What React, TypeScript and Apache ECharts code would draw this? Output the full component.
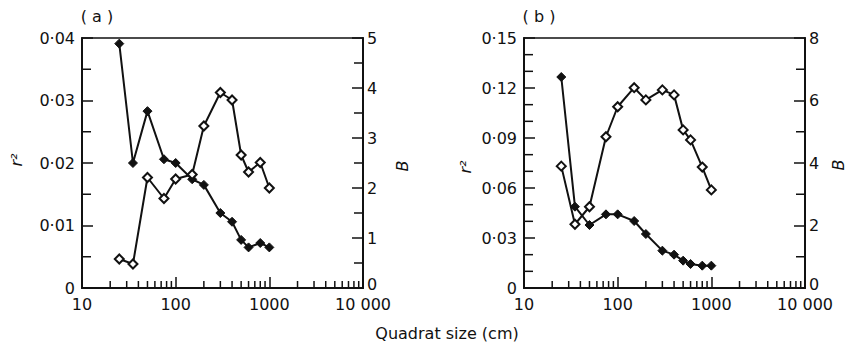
import React, { useEffect, useRef } from "react";
import * as echarts from "echarts";

const quadratSizes = [25, 35, 50, 75, 100, 150, 200, 300, 400, 500, 600, 800, 1000];
const aR2 = [0.0391, 0.02, 0.0283, 0.0206, 0.02, 0.0174, 0.0165, 0.012, 0.0106, 0.0077, 0.0065, 0.0072, 0.0065];
const aB = [0.58, 0.48, 2.21, 1.79, 2.18, 2.27, 3.24, 3.91, 3.76, 2.66, 2.32, 2.51, 2.0];
const bR2 = [0.1266, 0.0488, 0.0378, 0.0442, 0.0442, 0.0402, 0.0324, 0.0224, 0.02, 0.0164, 0.0144, 0.0134, 0.0134];
const bB = [3.9, 2.04, 2.6, 4.84, 5.8, 6.41, 6.02, 6.34, 6.18, 5.06, 4.74, 3.87, 3.14];
const minorXTicks = [20, 30, 40, 50, 60, 70, 80, 90, 200, 300, 400, 500, 600, 700, 800, 900, 2000, 3000, 4000, 5000, 6000, 7000, 8000, 9000];
const panelLabels = ["( a )", "( b )"];
const xTitle = "Quadrat size (cm)";
const leftTitle = "r\u00b2";
const rightTitle = "B";

const FONT = "DejaVu Sans";
const BLACK = "#111";
const FS = 16;

const fmtR2 = (v: number) => (v === 0 ? "0" : v.toFixed(2).replace(".", "\u00b7"));
const fmtX = (v: number) => (v === 10000 ? "10 000" : String(v));
const fmtB = (v: number) => (v === 0 ? "{z|0}" : String(v));

export default function App() {
  const ref = useRef<HTMLDivElement>(null);
  useEffect(() => {
    if (!ref.current) return;
    const chart = echarts.init(ref.current, null, { renderer: "svg" });
    const grids = [
      { left: 82, top: 38, width: 281, height: 250 },
      { left: 524, top: 38, width: 281, height: 250 },
    ];
    const xAxis = grids.map((_, i) => ({
      type: "log",
      gridIndex: i,
      logBase: 10,
      min: 10,
      max: 10000,
      axisLine: { show: true, lineStyle: { color: BLACK, width: 2 } },
      axisTick: { show: true, inside: true, length: 11, lineStyle: { color: BLACK, width: 1.5 } },
      axisLabel: { formatter: fmtX, color: BLACK, fontFamily: FONT, fontSize: FS, lineHeight: 14, margin: 9 },
      splitLine: { show: false },
    }));
    const yCommon = (gridIndex: number, position: string, min: number, max: number, interval: number, formatter: any) => ({
      type: "value",
      gridIndex,
      position,
      min,
      max,
      interval,
      axisLine: { show: true, onZero: false, lineStyle: { color: BLACK, width: 2 } },
      axisTick: { show: true, inside: true, length: 11, lineStyle: { color: BLACK, width: 1.5 } },
      axisLabel: {
        formatter,
        color: BLACK,
        fontFamily: FONT,
        fontSize: FS,
        lineHeight: 14,
        margin: position === "left" ? 7 : 4,
        rich: { z: { fontFamily: FONT, fontSize: FS, color: BLACK, lineHeight: 14, padding: [0, 0, 8, 0] } },
      },
      splitLine: { show: false },
    });
    const yAxis = [
      yCommon(0, "left", 0, 0.04, 0.01, fmtR2),
      yCommon(0, "right", 0, 5, 1, fmtB),
      yCommon(1, "left", 0, 0.15, 0.03, fmtR2),
      yCommon(1, "right", 0, 8, 2, fmtB),
    ];
    const zip = (ys: number[]) => quadratSizes.map((x, i) => [x, ys[i]]);
    const lineSeries = (data: number[], xi: number, yi: number, filled: boolean) => ({
      type: "line",
      xAxisIndex: xi,
      yAxisIndex: yi,
      data: zip(data),
      symbol: "diamond",
      symbolSize: 9,
      showSymbol: true,
      lineStyle: { color: BLACK, width: 2 },
      itemStyle: filled
        ? { color: BLACK, borderColor: BLACK, borderWidth: 1 }
        : { color: "#fff", borderColor: BLACK, borderWidth: 2 },
      z: filled ? 3 : 4,
    });
    const xMinor = (xi: number, yi: number) => ({
      type: "custom",
      xAxisIndex: xi,
      yAxisIndex: yi,
      silent: true,
      data: minorXTicks.map((v) => [v, 0]),
      renderItem: (params: any, api: any) => {
        const p = api.coord([api.value(0), 0]);
        return {
          type: "line",
          shape: { x1: p[0], y1: p[1], x2: p[0], y2: p[1] - 7 },
          style: { stroke: BLACK, lineWidth: 1.5 },
        };
      },
    });
    const yMinorVals = (min: number, max: number, step: number, majorStep: number) => {
      const out: number[] = [];
      const n = Math.round((max - min) / step);
      for (let i = 1; i < n; i++) {
        const v = min + i * step;
        const r = v / majorStep;
        if (Math.abs(r - Math.round(r)) > 1e-6) out.push(v);
      }
      return out;
    };
    const yMinor = (xi: number, yi: number, vals: number[], side: "left" | "right") => ({
      type: "custom",
      xAxisIndex: xi,
      yAxisIndex: yi,
      silent: true,
      data: vals.map((v) => [side === "left" ? 10 : 10000, v]),
      renderItem: (params: any, api: any) => {
        const p = api.coord([api.value(0), api.value(1)]);
        const d = side === "left" ? 9 : -9;
        return {
          type: "line",
          shape: { x1: p[0], y1: p[1], x2: p[0] + d, y2: p[1] },
          style: { stroke: BLACK, lineWidth: 1.5 },
        };
      },
    });
    const txt = (text: string, x: number, y: number, rot: number, italic = false) => ({
      type: "text",
      x,
      y,
      rotation: rot,
      style: {
        text,
        fontFamily: FONT,
        fontStyle: italic ? "italic" : "normal",
        fontSize: FS,
        fill: BLACK,
        textAlign: "center",
        textVerticalAlign: "middle",
      },
    });
    const option: any = {
      animation: false,
      backgroundColor: "#fff",
      textStyle: { fontFamily: FONT },
      grid: grids.map((g) => ({ ...g, show: true, borderColor: BLACK, borderWidth: 1.5, backgroundColor: "transparent" })),
      xAxis,
      yAxis,
      series: [
        xMinor(0, 0),
        xMinor(1, 2),
        yMinor(0, 0, yMinorVals(0, 0.04, 0.005, 0.01), "left"),
        yMinor(0, 1, yMinorVals(0, 5, 0.5, 1), "right"),
        yMinor(1, 2, yMinorVals(0, 0.15, 0.01, 0.03), "left"),
        yMinor(1, 3, yMinorVals(0, 8, 1, 2), "right"),
        lineSeries(aR2, 0, 0, true),
        lineSeries(aB, 0, 1, false),
        lineSeries(bR2, 1, 2, true),
        lineSeries(bB, 1, 3, false),
      ],
      graphic: [
        txt(panelLabels[0], 97, 16, 0),
        txt(panelLabels[1], 539, 16, 0),
        txt(leftTitle, 16, 160, Math.PI / 2, true),
        txt(leftTitle, 465, 167, Math.PI / 2, true),
        txt(rightTitle, 402, 166, Math.PI / 2, true),
        txt(rightTitle, 838, 165, Math.PI / 2, true),
        txt(xTitle, 447, 333, 0),
      ],
    };
    chart.setOption(option);
    return () => chart.dispose();
  }, []);
  return <div ref={ref} style={{ position: "fixed", left: 0, top: 0, width: 848, height: 344, background: "#fff" }} />;
}
